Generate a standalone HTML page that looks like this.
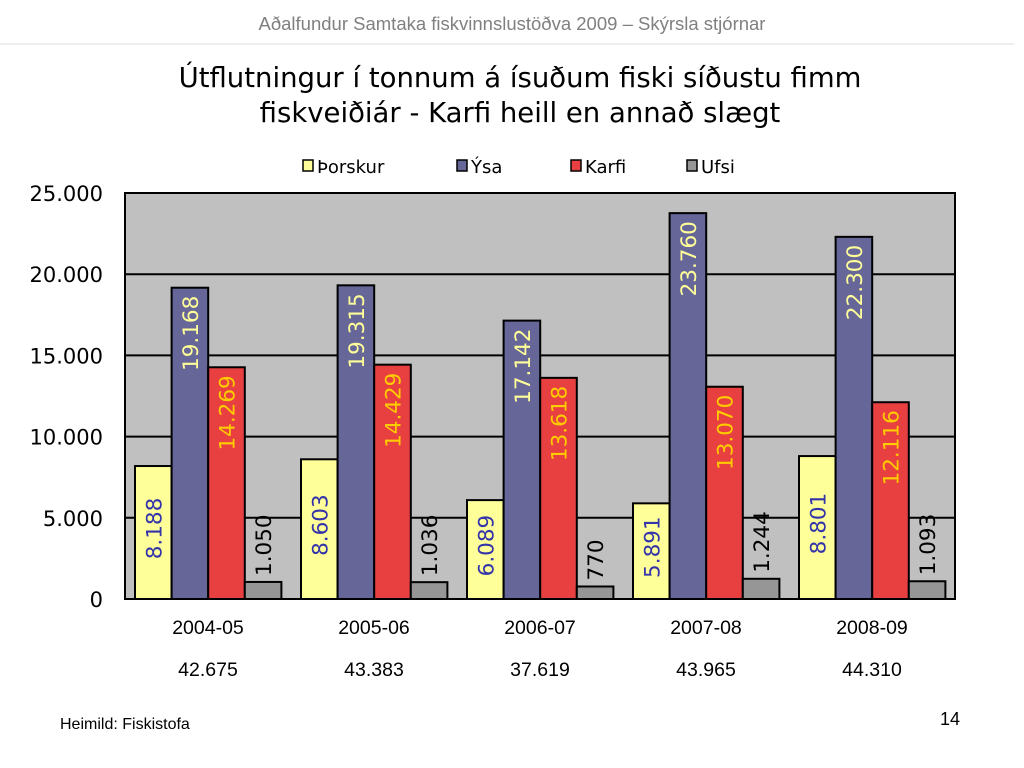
<!DOCTYPE html>
<html><head><meta charset="utf-8"><style>
body{margin:0;width:1024px;height:768px;background:#fff;font-family:"DejaVu Sans","Liberation Sans",sans-serif;overflow:hidden}
svg{display:block}
</style></head><body>
<svg width="1024" height="768" xmlns="http://www.w3.org/2000/svg" id="chart">
<text x="512" y="30" text-anchor="middle" font-family="Liberation Sans" font-size="18.5" fill="#808080">Aðalfundur Samtaka fiskvinnslustöðva 2009 – Skýrsla stjórnar</text>
<line x1="0" y1="44" x2="1014" y2="44" stroke="#ddd" stroke-width="1"/>
<text x="520" y="87" text-anchor="middle" font-size="27.5" fill="#000">Útflutningur í tonnum á ísuðum fiski síðustu fimm</text>
<text x="520" y="122" text-anchor="middle" font-size="27.5" fill="#000">fiskveiðiár - Karfi heill en annað slægt</text>
<g id="legend"></g>
<rect x="125" y="193" width="830" height="406" fill="#c0c0c0"/>
<g id="grid"></g><g id="bars"></g><g id="labels"></g>
<rect x="125" y="193" width="830" height="406" fill="none" stroke="#000" stroke-width="2"/>
<g id="axes"></g>
<text x="60" y="729" font-family="Liberation Sans" font-size="16">Heimild: Fiskistofa</text>
<text x="960" y="725" text-anchor="end" font-family="Liberation Sans" font-size="18">14</text>
</svg>
<script>
const categories=["2004-05","2005-06","2006-07","2007-08","2008-09"];
const totals=["42.675","43.383","37.619","43.965","44.310"];
const seriesNames=["Þorskur","Ýsa","Karfi","Ufsi"];
const thorskur=[8188,8603,6089,5891,8801];
const ysa=[19168,19315,17142,23760,22300];
const karfi=[14269,14429,13618,13070,12116];
const ufsi=[1050,1036,770,1244,1093];
const yTicks=[0,5000,10000,15000,20000,25000];
const yTickLabels=["0","5.000","10.000","15.000","20.000","25.000"];
const series=[thorskur,ysa,karfi,ufsi];
const colors=["#ffff99","#666699","#e84040","#969696"];
const NS="http://www.w3.org/2000/svg";
const X0=125,X1=955,Y0=599,Y1=193,YMAX=25000;
const gw=(X1-X0)/categories.length,bw=36.6,off=10;
const y=v=>Y0-(v/YMAX)*(Y0-Y1);
const bx=(i,s)=>X0+i*gw+off+s*bw;
function mk(tag,attrs,parent,text){const e=document.createElementNS(NS,tag);for(const k in attrs)e.setAttribute(k,attrs[k]);if(text!==undefined)e.textContent=text;document.getElementById(parent).appendChild(e);return e;}
const fmt=v=>v>=1000?Math.floor(v/1000)+"."+String(v%1000).padStart(3,"0"):String(v);
yTicks.forEach((t,i)=>{
 if(t>0&&t<YMAX){const g=mk('line',{x1:X0,x2:X1,y1:y(t),y2:y(t),stroke:'#000','stroke-width':2},'grid');
 
 }
 const l=mk('text',{x:X0-22,y:y(t)+8,'text-anchor':'end','font-size':21},'axes',yTickLabels[i]);
 
 
});
categories.forEach((c,i)=>{
 const cx=X0+i*gw+gw/2;
 const l=mk('text',{x:cx,y:634,'text-anchor':'middle','font-family':'Liberation Sans','font-size':19.5},'axes',c);
 
 
 const t=mk('text',{x:cx,y:676,'text-anchor':'middle','font-family':'Liberation Sans','font-size':19.5},'axes',totals[i]);
 
 
 series.forEach((arr,s)=>{
  const v=arr[i],x=bx(i,s),top=y(v);
  const r=mk('rect',{x:x,y:top,width:bw,height:Y0-top,fill:colors[s],stroke:'#000','stroke-width':2},'bars');
  
  
  const cxb=x+bw/2+8;let ly,anchor,fill;
  if(s===0){ly=(top+Y0)/2-4;anchor='middle';fill='#3333aa';}
  else if(s===1){ly=top+8;anchor='end';fill='#ffff99';}
  else if(s===2){ly=top+8;anchor='end';fill='#ffcc00';}
  else{ly=top-6;anchor='start';fill='#000';}
  const tl=mk('text',{x:cxb,y:ly,'text-anchor':anchor,'font-size':21.5,fill:fill,transform:`rotate(-90 ${cxb} ${ly})`},'labels',fmt(v));
  
  
 });
});
const lx=[303,457,571,687];
seriesNames.forEach((n,s)=>{
 const r=mk('rect',{x:lx[s],y:160,width:10,height:11,fill:colors[s],stroke:'#000','stroke-width':1.5},'legend');
 
 
 const t=mk('text',{x:lx[s]+14,y:173,'font-size':18},'legend',n);
 
 
});
</script>
</body></html>
